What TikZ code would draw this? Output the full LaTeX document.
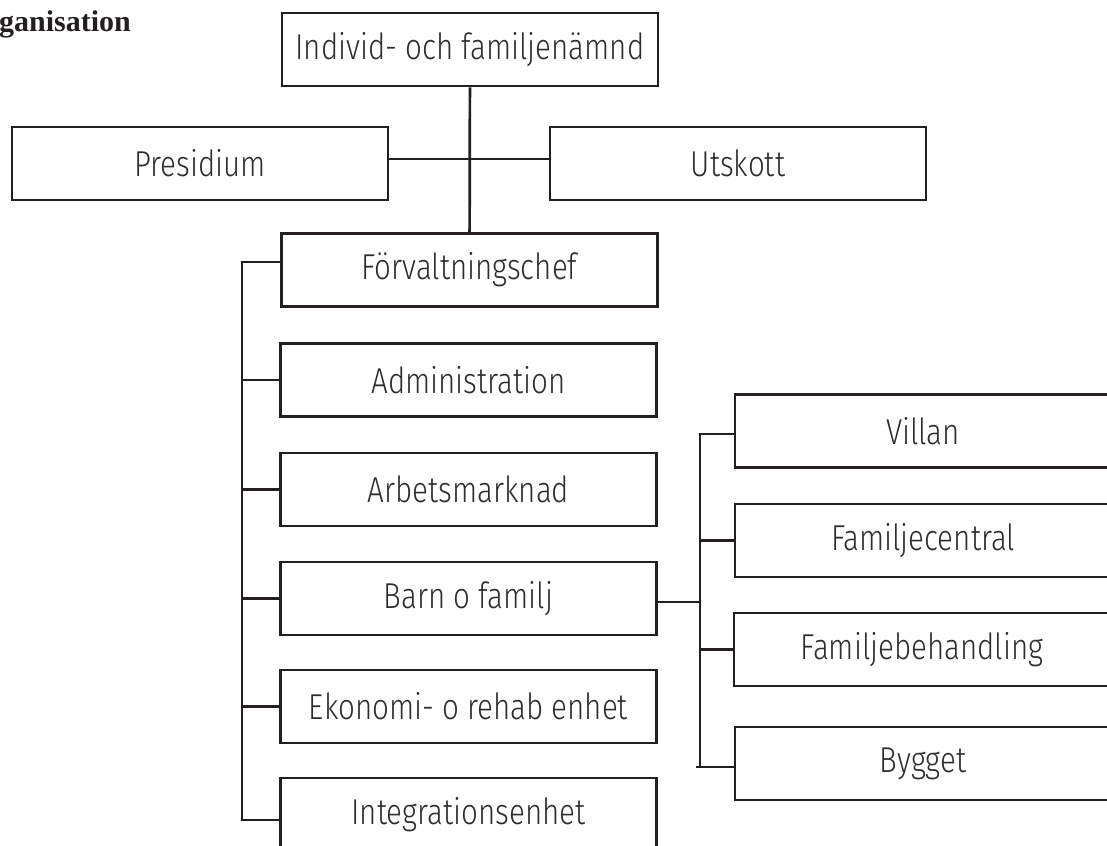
\documentclass[tikz,border=0pt]{standalone}
\usepackage{fontspec}
\usepackage{tikz}
\usetikzlibrary{positioning,calc}
\setmainfont{Liberation Serif}
\newfontfamily\boxFont{Fira Sans Light}[FakeStretch=0.82]
\definecolor{lineColor}{RGB}{35,31,32}
\definecolor{textColor}{RGB}{45,45,45}
\tikzstyle{chart} = [x = 1pt, y = -1pt]
\tikzstyle{orgBox} = [draw=lineColor, line width=2.7pt, minimum width=376pt, minimum height=73pt, inner sep=0pt, text=textColor, font=\boxFont\fontsize{36}{42}\selectfont]
\tikzstyle{connLine} = [draw=lineColor, line width=2.7pt]
\tikzstyle{headText} = [font=\bfseries\fontsize{30}{36}\selectfont, text=lineColor, inner sep=0pt, anchor=base west]
\begin{document}
\begin{tikzpicture}[chart]
  \useasboundingbox (0,0) rectangle (1107,845);
  \clip (0,0) rectangle (1107,845);

  % heading, cut at the left edge
  \node [headText] (head) at (-1,32) {ganisation};

  % board level
  \node [orgBox] (board) at (470,49.5) {Individ- och familjenämnd};
  \node [orgBox] (presidium) at (200,163.5) {Presidium};
  \node [orgBox] (committee) at (738,163.5) {Utskott};

  % administration
  \node [orgBox] (chief) at (469.5,270) {Förvaltningschef};
  \node [orgBox] (admin) at (468.5,380) {Administration};
  \node [orgBox] (labour) at (468.5,489.5) {Arbetsmarknad};
  \node [orgBox] (family) at (468.5,598.5) {Barn o familj};
  \node [orgBox] (economy) at (468.5,706.5) {Ekonomi- o rehab enhet};
  \node [orgBox] (integration) at (468.5,814.5) {Integrationsenhet};

  % units under Barn o familj
  \node [orgBox] (villa) at (923,431) {Villan};
  \node [orgBox] (familyCentre) at (923,540.5) {Familjecentral};
  \node [orgBox] (familyCare) at (922,649.5) {Familjebehandling};
  \node [orgBox] (building) at (923,763.5) {Bygget};

  % connectors
  \draw [connLine] (board) -- (chief);
  \draw [connLine] ($(presidium.east)+(0,-4.5)$) -- ($(committee.west)+(0,-4.5)$);

  \coordinate (leftTop) at (242,262);
  \coordinate (leftBottom) at (242,820);
  \draw [connLine] (chief.west |- leftTop) -- (leftTop) -- (leftBottom) -- (integration.west |- leftBottom);
  \foreach \unit in {admin,labour,family,economy} {
    \draw [connLine] (\unit.west) -- (\unit.west -| leftTop);
  }

  \coordinate (rightTop) at (700,434);
  \coordinate (rightBottom) at (700,767);
  \draw [connLine] ($(family.east)+(0,3.5)$) -- ($(family.east -| rightTop)+(0,3.5)$);
  \draw [connLine] (villa.west |- rightTop) -- (rightTop) -- (rightBottom) -- (building.west |- rightBottom);
  \draw [connLine] (rightBottom) -- +(-4,0);
  \foreach \unit in {familyCentre,familyCare} {
    \draw [connLine] (\unit.west) -- (\unit.west -| rightTop);
  }
\end{tikzpicture}
\end{document}
